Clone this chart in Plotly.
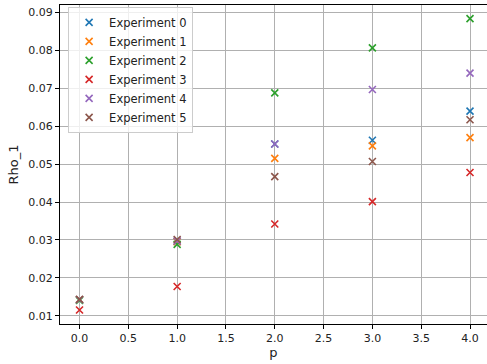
import plotly.graph_objects as go

p_values = [0.0, 1.0, 2.0, 3.0, 4.0]
series_names = ["Experiment 0", "Experiment 1", "Experiment 2", "Experiment 3", "Experiment 4", "Experiment 5"]
exp0 = [0.0142, 0.0296, 0.0553, 0.0563, 0.0640]
exp1 = [0.0142, 0.0295, 0.0515, 0.0548, 0.0570]
exp2 = [0.0140, 0.0288, 0.0688, 0.0807, 0.0884]
exp3 = [0.0115, 0.0177, 0.0342, 0.0401, 0.0478]
exp4 = [0.0142, 0.0297, 0.0553, 0.0697, 0.0740]
exp5 = [0.0143, 0.0301, 0.0467, 0.0507, 0.0617]
colors = ["#1f77b4", "#ff7f0e", "#2ca02c", "#d62728", "#9467bd", "#8c564b"]

fig = go.Figure()
for name, ys, c in zip(series_names, [exp0, exp1, exp2, exp3, exp4, exp5], colors):
    fig.add_trace(go.Scatter(
        x=p_values, y=ys, mode="markers", name=name,
        marker=dict(symbol="x-thin-open", size=7, color=c, line=dict(width=1.6, color=c)),
    ))

axis_common = dict(
    showline=True, linecolor="black", linewidth=1,
    showgrid=True, gridcolor="#b0b0b0", gridwidth=1,
    ticks="outside", ticklen=4, tickcolor="black", automargin=False,
    zeroline=False, tickfont=dict(family="DejaVu Sans", size=11, color="#222222"),
)

fig.update_layout(
    width=487, height=364,
    margin=dict(l=60, r=0, t=5, b=40),
    paper_bgcolor="white", plot_bgcolor="white",
    font=dict(family="DejaVu Sans", size=11, color="#222222"),
    xaxis=dict(range=[-0.2, 4.174], tickvals=[0, 0.5, 1, 1.5, 2, 2.5, 3, 3.5, 4],
               ticktext=["0.0", "0.5", "1.0", "1.5", "2.0", "2.5", "3.0", "3.5", "4.0"],
               mirror=True,
               title=dict(text="p", standoff=2), **axis_common),
    yaxis=dict(range=[0.0078, 0.0920], tickvals=[0.01, 0.02, 0.03, 0.04, 0.05, 0.06, 0.07, 0.08, 0.09],
               ticktext=["0.01", "0.02", "0.03", "0.04", "0.05", "0.06", "0.07", "0.08", "0.09"],
               mirror=False,
               title=dict(text="Rho_1", standoff=6), **axis_common),
    legend=dict(x=0.019, y=0.994, xanchor="left", yanchor="top",
                bgcolor="rgba(255,255,255,0.8)", bordercolor="#cccccc", borderwidth=1,
                font=dict(family="DejaVu Sans", size=11.5), tracegroupgap=0, itemwidth=30),
    showlegend=True,
)

fig.write_html("out.html", config={"displayModeBar": False},
               post_script="document.body.style.margin='0';document.body.style.overflow='hidden';")
